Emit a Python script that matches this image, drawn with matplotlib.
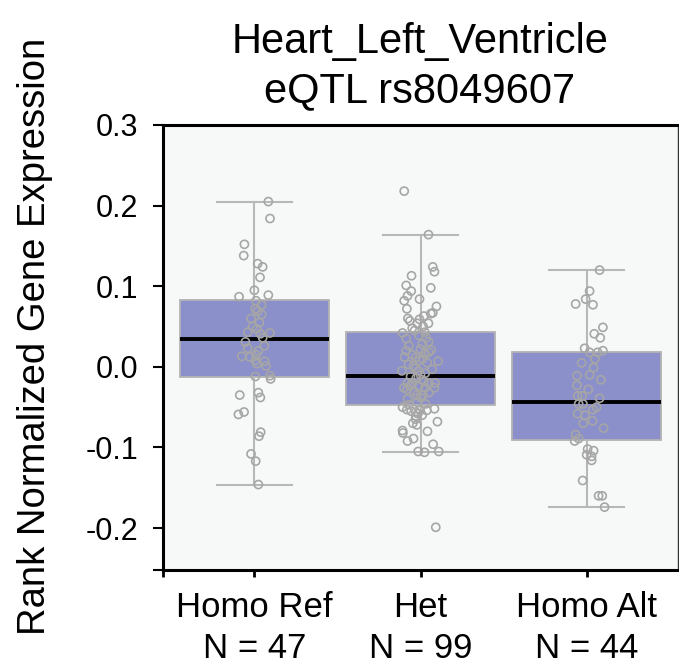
import matplotlib
matplotlib.use("Agg")
from matplotlib import pyplot as plt

plt.rcParams['font.family'] = ['Liberation Sans', 'DejaVu Sans']

# genotype groups
groups = ["Homo Ref", "Het", "Homo Alt"]
counts = [47, 99, 44]

# box stats
q1 = [-0.012, -0.047, -0.091]
med = [0.035, -0.011, -0.044]
q3 = [0.083, 0.043, 0.018]
whislo = [-0.146, -0.106, -0.174]
whishi = [0.205, 0.164, 0.120]

# individual samples (value, jitter in category units)
ref_vals = [0.205, 0.184, 0.152, 0.138, 0.128, 0.124, 0.111, 0.095, 0.087, 0.089,
            0.082, 0.077, 0.072, 0.069, 0.065, 0.047, 0.043, 0.041, 0.042, 0.031,
            0.026, 0.020, 0.015, 0.013, 0.012, 0.008, 0.007, -0.012, -0.011, -0.015,
            -0.035, -0.032, -0.038, -0.059, -0.056, -0.081, -0.086, -0.108, -0.117, -0.146,
            0.060, 0.055, 0.036, 0.023, 0.004, 0.050, 0.001]
ref_jit = [0.084, 0.094, -0.06, -0.064, 0.02, 0.05, 0.034, 0.0, -0.092, 0.084,
           0.01, 0.044, 0.006, 0.02, 0.044, 0.014, -0.04, 0.036, 0.094, -0.054,
           0.06, 0.024, 0.01, -0.076, -0.026, 0.006, 0.062, 0.006, 0.094, 0.098,
           -0.088, 0.024, 0.036, -0.096, -0.062, 0.038, 0.028, -0.02, 0.008, 0.024,
           -0.02, 0.03, 0.05, -0.04, 0.015, -0.01, 0.07]

het_vals = [0.218, 0.164, 0.124, 0.118, 0.113, 0.101, 0.098, 0.094, 0.088, 0.082,
            0.084, 0.075, 0.072, 0.067, 0.066, 0.060, 0.057, 0.059, 0.054, 0.054,
            0.050, 0.045, 0.043, 0.042, 0.035, 0.036, 0.031, 0.022, 0.021, 0.020,
            0.017, 0.012, 0.012, 0.010, 0.007, 0.003, 0.001, -0.005, -0.005, -0.008,
            -0.014, -0.016, -0.020, -0.020, -0.020, -0.020, -0.026, -0.024, -0.024, -0.026,
            -0.026, -0.035, -0.035, -0.040, -0.050, -0.053, -0.055, -0.056, -0.054, -0.054,
            -0.052, -0.061, -0.058, -0.068, -0.070, -0.072, -0.079, -0.082, -0.080, -0.089,
            -0.092, -0.096, -0.105, -0.106, -0.105, -0.199,
            0.028, 0.015, 0.005, -0.002, -0.010, -0.012, -0.018, -0.030, -0.032, -0.038,
            -0.044, -0.046, 0.039, 0.048, 0.026, -0.003, 0.018, -0.028, -0.060, -0.047,
            0.063, -0.065, 0.008]
het_jit = [-0.098, 0.048, 0.074, 0.084, -0.054, -0.086, 0.062, -0.056, -0.078, -0.098,
           -0.006, 0.096, -0.082, 0.074, 0.062, -0.076, -0.064, -0.006, -0.02, 0.048,
           0.016, -0.036, 0.026, -0.108, -0.086, 0.034, 0.048, 0.0, 0.064, -0.086,
           0.026, -0.096, -0.028, 0.014, 0.106, -0.072, -0.042, -0.112, -0.012, 0.028,
           -0.026, 0.008, -0.078, -0.048, 0.048, 0.088, -0.1, -0.062, -0.012, 0.028,
           0.084, -0.022, 0.014, -0.078, -0.108, -0.082, -0.056, -0.028, -0.002, 0.038,
           0.084, -0.028, -0.016, 0.102, -0.046, -0.022, -0.108, -0.106, 0.042, -0.042,
           -0.078, 0.076, -0.014, 0.024, 0.11, 0.092,
           0.01, -0.05, 0.04, -0.03, 0.0, -0.06, 0.02, -0.04, 0.05, 0.0,
           -0.02, 0.03, -0.01, -0.05, -0.07, 0.07, 0.05, -0.08, 0.01, -0.07,
           0.02, -0.03, -0.005]

alt_vals = [0.120, 0.094, 0.084, 0.078, 0.077, 0.049, 0.041, 0.036, 0.023, 0.018,
            0.018, 0.020, -0.001, -0.010, -0.011, -0.016, -0.023, -0.036, -0.036, -0.039,
            -0.046, -0.046, -0.053, -0.058, -0.067, -0.076, -0.084, -0.089, -0.092, -0.102,
            -0.104, -0.109, -0.111, -0.116, -0.141, -0.160, -0.160, -0.174,
            0.005, -0.028, -0.050, -0.070, 0.010, -0.060]
alt_jit = [0.078, 0.018, -0.006, -0.066, 0.038, 0.098, 0.046, 0.082, -0.012, 0.018,
           0.066, 0.098, 0.042, 0.018, -0.058, 0.086, -0.058, -0.054, -0.028, 0.078,
           -0.048, -0.022, 0.038, -0.054, 0.036, 0.102, -0.066, -0.048, -0.072, 0.006,
           0.042, 0.0, 0.03, 0.03, -0.024, 0.072, 0.094, 0.108,
           -0.03, 0.01, 0.06, -0.02, 0.05, -0.01]

all_vals = [ref_vals, het_vals, alt_vals]
all_jit = [ref_jit, het_jit, alt_jit]

fig = plt.figure(figsize=(6.79, 6.70), dpi=100)
ax = fig.add_axes([163 / 679, 1 - 570 / 670, (678 - 163) / 679, (570 - 125) / 670])
ax.set_facecolor("#f7f9f9")

stats = []
for i in range(len(groups)):
    stats.append({"q1": q1[i], "med": med[i], "q3": q3[i],
                  "whislo": whislo[i], "whishi": whishi[i], "fliers": []})

ax.bxp(stats, positions=range(len(groups)), widths=0.9, patch_artist=True,
       showfliers=False,
       boxprops=dict(facecolor="#8b8fca", edgecolor="#b3b3b3", linewidth=1.3),
       medianprops=dict(color="black", linewidth=2.8, solid_capstyle="butt"),
       whiskerprops=dict(color="#b8b8b8", linewidth=1.5),
       capprops=dict(color="#b8b8b8", linewidth=1.5),
       capwidths=0.45)

for i in range(len(groups)):
    xs = [i + j for j in all_jit[i]]
    ax.scatter(xs, all_vals[i], s=34, facecolors="none", edgecolors="#a6a6a6",
               linewidths=1.2, zorder=5)

ax.set_xlim(-0.55, 2.55)
ax.set_ylim(-0.252, 0.3)

yt = [-0.2, -0.1, 0.0, 0.1, 0.2, 0.3]
ax.set_yticks(yt)
ax.set_yticklabels([f"{v:.1f}" for v in yt], fontsize=22)
ax.set_xticks(range(len(groups)))
ax.set_xticklabels([f"{g}\nN = {n}" for g, n in zip(groups, counts)], fontsize=25,
                   linespacing=1.3)
# small corner marks where the two spines cross
ax.set_yticks([-0.252], minor=True)
ax.set_xticks([-0.55], minor=True)
ax.tick_params(axis="y", which="both", length=7, width=1.5, pad=11)
ax.tick_params(axis="x", which="both", length=5, width=2, pad=10)

for side in ["top", "left", "bottom"]:
    ax.spines[side].set_linewidth(2.2)
    ax.spines[side].set_color("black")
ax.spines["right"].set_linewidth(1)
ax.spines["right"].set_color("#333333")

fig.text(420 / 679, 1 - 67 / 670, "Heart_Left_Ventricle\neQTL rs8049607",
         ha="center", va="center", fontsize=30, linespacing=1.3)
fig.text(35 / 679, 0.4985, "Rank Normalized Gene Expression", rotation=90,
         ha="center", va="center", fontsize=27.5)

plt.savefig("out.png", dpi=100)
